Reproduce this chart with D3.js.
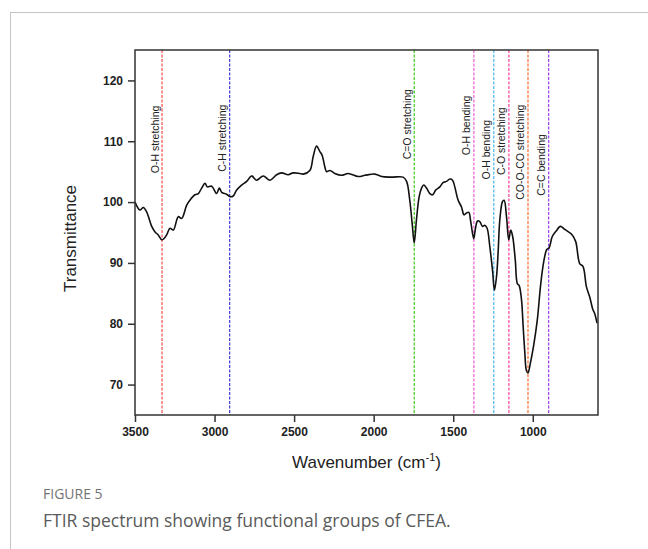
<!DOCTYPE html>
<html>
<head>
<meta charset="utf-8">
<script src="https://cdn.jsdelivr.net/npm/d3@7"></script>
<style>
  html, body { margin: 0; padding: 0; background: #fff; }
  svg { display: block; }
</style>
</head>
<body>
<svg id="chart" width="648" height="549"></svg>
<script>
// ---- data ----
const wavenumber = [3500,3469,3448,3427,3395,3374,3354,3332,3318,3301,3280,3259,3228,3207,3175,3155,3123,3102,3081,3060,3046,3018,2987,2970,2955,2924,2903,2883,2861,2830,2798,2767,2736,2694,2652,2610,2579,2537,2506,2464,2443,2401,2380,2359,2338,2324,2307,2296,2275,2244,2202,2160,2097,2055,1993,1950,1888,1815,1793,1773,1758,1745,1731,1714,1699,1685,1668,1647,1630,1609,1584,1564,1542,1521,1504,1490,1469,1448,1432,1417,1402,1390,1371,1360,1347,1333,1316,1302,1287,1270,1253,1241,1228,1218,1207,1190,1180,1165,1151,1138,1126,1110,1097,1086,1071,1061,1050,1040,1030,1016,994,972,950,931,912,897,878,854,826,799,752,730,705,684,663,642,623,611,596];
const transmittance = [100.0,98.7,99.1,98.4,96.0,95.1,94.6,93.8,94.0,94.6,95.7,95.4,97.6,97.3,99.5,100.3,101.2,101.4,102.3,103.1,102.5,102.6,101.4,102.3,101.6,101.3,100.9,101.0,102.0,102.8,103.4,104.3,103.6,104.3,103.6,104.5,104.8,104.5,104.8,104.7,104.6,105.2,107.5,109.2,108.3,107.7,105.8,105.0,105.2,104.7,104.4,104.7,104.2,104.4,104.6,104.2,104.1,104.1,103.4,100.3,96.5,93.3,97.1,100.9,102.3,102.8,102.3,101.4,101.2,102.0,102.5,103.2,103.4,103.8,103.6,102.5,100.3,99.2,97.9,98.2,98.3,96.8,94.0,95.7,96.9,96.8,96.0,96.2,95.7,92.7,88.8,85.5,87.7,91.6,97.1,100.1,100.3,97.6,93.8,95.4,94.3,90.5,86.6,86.3,84.0,79.8,75.3,72.3,71.9,73.4,76.5,80.5,86.5,90.2,92.2,92.5,94.3,95.2,96.0,95.5,94.6,93.5,89.9,89.4,86.1,84.4,82.4,81.7,80.1];

const bandWavenumber = [3330, 2905, 1745, 1370, 1245, 1150, 1030, 900];
const bandLabel = ["O-H stretching", "C-H stretching", "C=O stretching", "O-H bending", "O-H bending", "C-O stretching", "CO-O-CO stretching", "C=C bending"];
const bandLabelT = [110.3, 110.5, 112.8, 112.6, 108.6, 110.0, 108.2, 106.1];

const xTicks = [3500, 3000, 2500, 2000, 1500, 1000];
const yTicks = [70, 80, 90, 100, 110, 120];

// ---- styles ----
const bandColor = ["#ff4d4d", "#3a3ad6", "#3ccc14", "#f05ad2", "#45b8ee", "#ff3f9a", "#ff6a2a", "#9a3df2"];
const font = "'Liberation Sans', Arial, sans-serif";

const svg = d3.select("#chart");
const M = { left: 135, right: 598, top: 50, bottom: 415 };

const x = d3.scaleLinear().domain([3500, 590]).range([M.left, M.right]);
const y = d3.scaleLinear().domain([65, 125]).range([M.bottom, M.top]);

// figure frame lines
svg.append("line").attr("x1", 10).attr("x2", 648).attr("y1", 12.5).attr("y2", 12.5)
  .attr("stroke", "#c4c4c4").attr("stroke-width", 1);
svg.append("line").attr("x1", 10.5).attr("x2", 10.5).attr("y1", 12).attr("y2", 549)
  .attr("stroke", "#c4c4c4").attr("stroke-width", 1);

// band lines
const bands = svg.append("g");
bandWavenumber.forEach((w, i) => {
  bands.append("line")
    .attr("x1", x(w)).attr("x2", x(w))
    .attr("y1", M.top).attr("y2", M.bottom)
    .attr("stroke", bandColor[i]).attr("stroke-width", 1.2)
    .attr("stroke-dasharray", "3,1.5");
  bands.append("text")
    .attr("transform", `translate(${x(w) - 7.5},${y(bandLabelT[i])}) rotate(-90)`)
    .attr("text-anchor", "middle")
    .attr("dominant-baseline", "central")
    .attr("font-family", font).attr("font-size", 10.5).attr("fill", "#222")
    .text(bandLabel[i]);
});

// spectrum
const pts = wavenumber.map((w, i) => [w, transmittance[i]]);
svg.append("path")
  .datum(pts)
  .attr("fill", "none").attr("stroke", "#111").attr("stroke-width", 1.6)
  .attr("stroke-linejoin", "round")
  .attr("d", d3.line().x(d => x(d[0])).y(d => y(d[1])).curve(d3.curveCatmullRom.alpha(0.5)));

// frame
svg.append("rect").attr("x", M.left).attr("y", M.top)
  .attr("width", M.right - M.left).attr("height", M.bottom - M.top)
  .attr("fill", "none").attr("stroke", "#333").attr("stroke-width", 1.5);

// axes
const xAxis = svg.append("g").attr("transform", `translate(0,${M.bottom})`)
  .call(d3.axisBottom(x).tickValues(xTicks).tickSize(7).tickPadding(5).tickFormat(d3.format("d")));
const yAxis = svg.append("g").attr("transform", `translate(${M.left},0)`)
  .call(d3.axisLeft(y).tickValues(yTicks).tickSize(7).tickPadding(5).tickFormat(d3.format("d")));
[xAxis, yAxis].forEach(g => {
  g.select(".domain").remove();
  g.selectAll(".tick line").attr("stroke", "#333").attr("stroke-width", 1.5);
  g.selectAll(".tick text").attr("font-family", font).attr("font-size", 12)
    .attr("font-weight", "bold").attr("fill", "#222");
});

// axis titles
const xt = svg.append("text")
  .attr("x", (M.left + M.right) / 2).attr("y", 468)
  .attr("text-anchor", "middle")
  .attr("font-family", font).attr("font-size", 17).attr("fill", "#222");
xt.append("tspan").text("Wavenumber (cm");
xt.append("tspan").attr("font-size", 11).attr("dy", -7).text("-1");
xt.append("tspan").attr("dy", 7).text(")");

svg.append("text")
  .attr("transform", `translate(76,${(M.top + M.bottom) / 2 + 6}) rotate(-90)`)
  .attr("text-anchor", "middle")
  .attr("font-family", font).attr("font-size", 17).attr("fill", "#222")
  .text("Transmittance");

// caption
svg.append("text").attr("x", 43).attr("y", 499)
  .attr("font-family", "'Open Sans', sans-serif").attr("font-size", 14)
  .attr("fill", "#737373").text("FIGURE 5");
svg.append("text").attr("x", 43).attr("y", 527)
  .attr("font-family", "'Open Sans', sans-serif").attr("font-size", 17.5)
  .attr("fill", "#5a5a5a").text("FTIR spectrum showing functional groups of CFEA.");
</script>
</body>
</html>
